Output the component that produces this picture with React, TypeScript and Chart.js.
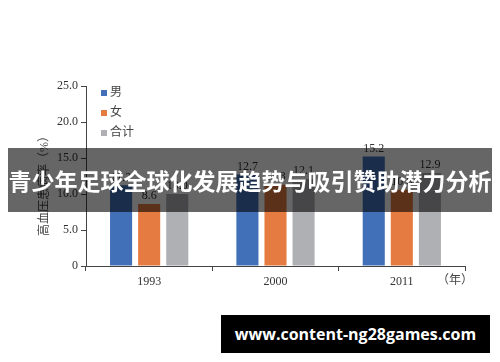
import React, { useEffect, useRef } from "react";
import { Chart, registerables } from "chart.js";

Chart.register(...registerables);

const categories = ["1993", "2000", "2011"];
const maleValues = [11.2, 12.7, 15.2];
const femaleValues = [8.6, 11.3, 10.6];
const totalValues = [10.0, 12.1, 12.9];
const seriesNames = ["男", "女", "合计"];
const seriesColors = ["#4170B8", "#E67B41", "#AFB0B4"];
const yTitle = "高血压患病率（%）";
const xTitle = "（年）";
const bannerText = "青少年足球全球化发展趋势与吸引赞助潜力分析";
const watermarkText = "www.content-ng28games.com";

const SERIF = '"Liberation Serif", "DejaVu Serif", "Noto Sans CJK SC", serif';

const extrasPlugin = {
  id: "extras",
  afterDatasetsDraw(chart: any) {
    const ctx = chart.ctx;
    const area = chart.chartArea;
    ctx.save();
    // value labels
    ctx.font = `12px ${SERIF}`;
    ctx.fillStyle = "#333";
    ctx.textAlign = "center";
    ctx.textBaseline = "bottom";
    chart.data.datasets.forEach((ds: any, i: number) => {
      const meta = chart.getDatasetMeta(i);
      meta.data.forEach((bar: any, j: number) => {
        ctx.fillText(ds.data[j].toFixed(1), bar.x, bar.y - 2);
      });
    });
    // legend
    ctx.textAlign = "left";
    ctx.textBaseline = "middle";
    chart.data.datasets.forEach((ds: any, i: number) => {
      const y = area.top + 7 + i * 20;
      ctx.fillStyle = ds.backgroundColor;
      ctx.fillRect(area.left + 15, y - 3, 6, 6);
      ctx.fillStyle = "#444";
      ctx.font = `12px ${SERIF}`;
      ctx.fillText(ds.label, area.left + 24, y);
    });
    // x title
    ctx.textAlign = "center";
    ctx.textBaseline = "middle";
    ctx.fillStyle = "#444";
    ctx.fillText(xTitle, area.right - 10, area.bottom + 15);
    // y title
    ctx.translate(45, (area.top + area.bottom) / 2 + 7);
    ctx.rotate(-Math.PI / 2);
    ctx.fillText(yTitle, 0, 0);
    ctx.restore();
  },
};

export default function App() {
  const ref = useRef<HTMLCanvasElement>(null);
  useEffect(() => {
    document.body.style.margin = "0";
    const chart = new Chart(ref.current!, {
      type: "bar",
      data: {
        labels: categories,
        datasets: [maleValues, femaleValues, totalValues].map((d, i) => ({
          label: seriesNames[i],
          data: d,
          backgroundColor: seriesColors[i],
          categoryPercentage: 0.667,
          barPercentage: 0.786,
        })),
      },
      options: {
        animation: false,
        responsive: false,
        layout: { padding: { top: 86, right: 35, left: 0, bottom: 0 } },
        plugins: { legend: { display: false }, tooltip: { enabled: false } },
        scales: {
          x: {
            afterFit(scale: any) {
              scale.height = 96;
            },
            border: { display: true, color: "#444", width: 1 },
            grid: { display: true, drawOnChartArea: false, drawTicks: true, tickLength: 5, color: "#444", offset: true },
            ticks: { color: "#333", font: { family: SERIF, size: 12 }, padding: 4 },
          },
          y: {
            min: 0,
            max: 25,
            afterFit(scale: any) {
              scale.width = 86;
            },
            border: { display: true, color: "#444", width: 1 },
            grid: { display: true, drawOnChartArea: false, drawTicks: true, tickLength: 5, color: "#444" },
            ticks: {
              stepSize: 5,
              color: "#333",
              font: { family: SERIF, size: 12 },
              padding: 3,
              callback: (v: any) => (v === 0 ? "0" : Number(v).toFixed(1)),
            },
          },
        },
      },
      plugins: [extrasPlugin],
    });
    return () => chart.destroy();
  }, []);

  return (
    <div style={{ position: "fixed", left: 0, top: 0, width: 500, height: 362, background: "#fff", overflow: "hidden" }}>
      <canvas ref={ref} width={500} height={362} style={{ position: "absolute", left: 0, top: 0 }} />
      <div
        style={{
          position: "absolute",
          left: 8,
          top: 148,
          width: 484,
          height: 64,
          background: "rgba(0,0,0,0.6)",
          color: "#fff",
          fontFamily: '"Noto Sans CJK SC", sans-serif',
          fontWeight: 700,
          fontSize: 23,
          lineHeight: "64px",
          textAlign: "center",
          whiteSpace: "nowrap",
        }}
      >
        {bannerText}
      </div>
      <div
        style={{
          position: "absolute",
          left: 221,
          top: 315,
          width: 269,
          height: 38,
          background: "#000",
          color: "#fff",
          fontFamily: '"Open Sans", "DejaVu Sans", sans-serif',
          fontWeight: 700,
          fontSize: 16,
          lineHeight: "38px",
          textAlign: "center",
          whiteSpace: "nowrap",
        }}
      >
        {watermarkText}
      </div>
    </div>
  );
}
